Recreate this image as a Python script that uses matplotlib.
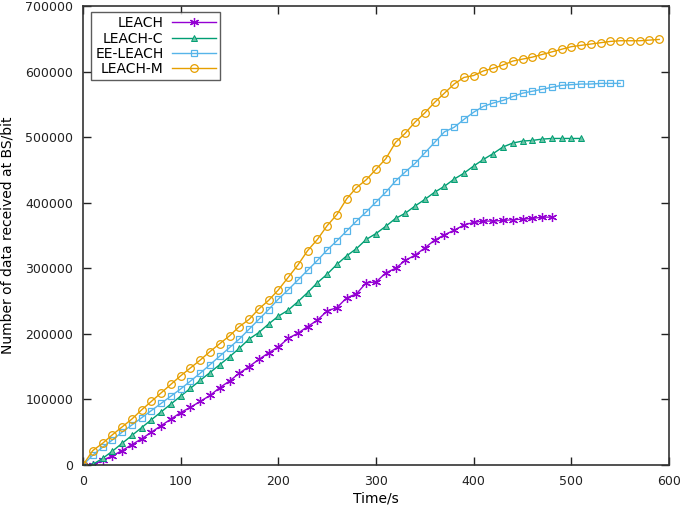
import matplotlib
matplotlib.use("Agg")
import matplotlib.pyplot as plt
import numpy as np

time_s = list(range(0, 600, 10))

leach = [0, 0, 7000, 14000, 22000, 31000, 40000, 50000, 60000, 70000,
         80000, 88000, 97000, 106000, 118000, 128000, 140000, 150000, 161000, 171000,
         180000, 193000, 201000, 211000, 221000, 235000, 240000, 255000, 261000, 278000,
         279000, 293000, 300000, 312000, 320000, 331000, 343000, 351000, 358000, 366000,
         370000, 372000, 372000, 373000, 374000, 375000, 376000, 378000, 378000]

leach_c = [0, 1000, 10000, 21000, 33000, 45000, 57000, 69000, 81000, 93000,
           105000, 117000, 129000, 141000, 153000, 165000, 178000, 192000, 202000, 215000,
           227000, 236000, 249000, 263000, 278000, 291000, 306000, 319000, 330000, 344000,
           353000, 364000, 376000, 384000, 395000, 405000, 416000, 425000, 436000, 445000,
           456000, 466000, 475000, 485000, 491000, 494000, 495000, 497000, 498000, 498000,
           498000, 498000]

ee_leach = [0, 15000, 27000, 38000, 50000, 61000, 72000, 83000, 94000, 105000,
            116000, 128000, 140000, 153000, 166000, 179000, 192000, 207000, 222000, 237000,
            253000, 267000, 282000, 297000, 312000, 328000, 342000, 357000, 372000, 386000,
            401000, 416000, 433000, 447000, 460000, 476000, 492000, 508000, 515000, 527000,
            538000, 547000, 552000, 556000, 562000, 567000, 570000, 573000, 576000, 579000,
            580000, 581000, 581000, 582000, 582000, 582000]

leach_m = [0, 22000, 33000, 46000, 58000, 70000, 84000, 97000, 110000, 123000,
           136000, 148000, 160000, 173000, 185000, 197000, 211000, 222000, 238000, 251000,
           267000, 286000, 305000, 327000, 344000, 365000, 382000, 406000, 423000, 435000,
           451000, 467000, 492000, 506000, 523000, 537000, 553000, 567000, 581000, 591000,
           594000, 601000, 605000, 610000, 616000, 619000, 622000, 626000, 630000, 634000,
           638000, 640000, 642000, 644000, 646000, 647000, 647000, 647000, 648000, 649000]

series_names = ["LEACH", "LEACH-C", "EE-LEACH", "LEACH-M"]
x_label = "Time/s"
y_label = "Number of data received at BS/bit"
x_ticks = [0, 100, 200, 300, 400, 500, 600]
y_ticks = [0, 100000, 200000, 300000, 400000, 500000, 600000, 700000]

fig = plt.figure(figsize=(6.85, 5.11), dpi=100)
ax = fig.add_axes([83/685, 1-465/511, (669-83)/685, (465-6)/511])

styles = [
    dict(color="#9400d3", marker=(6, 2, 0), ms=6.5, mfc="none", mew=0.9),
    dict(color="#009e73", marker="^", ms=4.5, mfc="#6cc4a6", mew=0.7),
    dict(color="#56b4e9", marker="s", ms=5, mfc="none", mew=0.9),
    dict(color="#e69f00", marker="o", ms=5.5, mfc="none", mew=0.9),
]
data = [leach, leach_c, ee_leach, leach_m]
for name, ys, st in zip(series_names, data, styles):
    xs = time_s[:len(ys)]
    ax.plot(xs, ys, label=name, lw=1.0, **st)

ax.set_xlim(0, 600)
ax.set_ylim(0, 700000)
ax.set_xticks(x_ticks)
ax.set_yticks(y_ticks)
ax.set_xticklabels([str(t) for t in x_ticks])
ax.set_yticklabels([str(t) for t in y_ticks])
ax.tick_params(direction="in", length=6, width=1, top=True, right=True,
               labelsize=9, colors="#222222", pad=7)
for sp in ax.spines.values():
    sp.set_linewidth(1.2)
    sp.set_color("#333333")
ax.set_xlabel(x_label, fontsize=10, labelpad=3)
ax.set_ylabel(y_label, fontsize=10, labelpad=8)

leg = ax.legend(loc="upper left", bbox_to_anchor=(0.0137, 0.987), markerfirst=False,
                frameon=True, fancybox=False, edgecolor="#333333", fontsize=10,
                handlelength=3.2, borderaxespad=0, borderpad=0.3, labelspacing=0.1,
                handletextpad=0.6)
leg.get_frame().set_linewidth(1.0)
for t in leg.get_texts():
    t.set_ha("right")
leg._legend_box.align = "right"

fig.savefig("out.png", dpi=100)
